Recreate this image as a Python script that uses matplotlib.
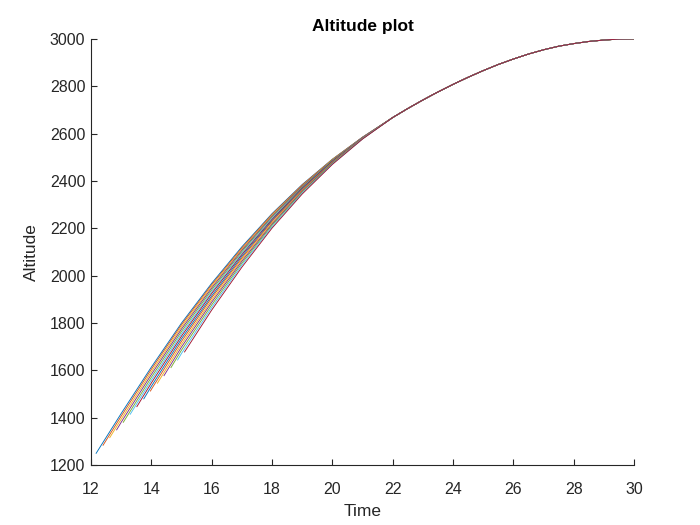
import numpy as np
import matplotlib
matplotlib.use("Agg")
import matplotlib.pyplot as plt

# Start of each trajectory (time, altitude)
start_time = [12.17, 12.40, 12.62, 12.85, 13.07, 13.30, 13.52,
              13.75, 13.97, 14.20, 14.42, 14.65, 14.87, 15.10]
start_alt = [1250, 1284, 1316, 1349, 1381, 1415, 1447,
             1480, 1513, 1546, 1578, 1612, 1644, 1678]

# Altitude at whole seconds up to t=21 (before the curves merge)
early_time = [13, 14, 15, 16, 17, 18, 19, 20, 21]
early_alt = [
    [1418, 1614, 1800, 1968, 2122, 2262, 2385, 2492, 2585],
    [1407, 1605, 1793, 1962, 2117, 2259, 2383, 2491, 2585],
    [1394, 1594, 1784, 1955, 2112, 2255, 2380, 2490, 2584],
    [1381, 1583, 1775, 1948, 2107, 2251, 2378, 2488, 2584],
    [1571, 1765, 1940, 2101, 2247, 2375, 2487, 2583],
    [1559, 1755, 1932, 2095, 2243, 2372, 2485, 2583],
    [1547, 1745, 1925, 2089, 2238, 2370, 2484, 2582],
    [1533, 1734, 1915, 2082, 2233, 2366, 2482, 2581],
    [1520, 1723, 1907, 2075, 2229, 2363, 2480, 2581],
    [1711, 1897, 2068, 2223, 2360, 2478, 2580],
    [1699, 1888, 2061, 2218, 2357, 2477, 2580],
    [1686, 1877, 2053, 2213, 2353, 2475, 2579],
    [1672, 1866, 2045, 2207, 2349, 2472, 2578],
    [1855, 2036, 2201, 2345, 2470, 2577],
]

# Common part once all runs coincide
tail_time = [22, 22.5, 23, 23.5, 24, 24.5, 25, 25.5, 26,
             26.5, 27, 27.5, 28, 28.5, 29, 29.5, 30]
tail_alt = [2668, 2706, 2742, 2776, 2808, 2838, 2866, 2892, 2915,
            2936, 2954, 2969, 2980, 2989, 2995, 2999, 3000]

matlab_colors = ['#0072BD', '#D95319', '#EDB120', '#7E2F8E',
                 '#77AC30', '#4DBEEE', '#A2142F']

plt.rcParams['font.family'] = ['Liberation Sans', 'DejaVu Sans']

fig = plt.figure(figsize=(7, 5.25), dpi=100)
ax = fig.add_axes([0.13, 0.114, 0.776, 0.812])

for i in range(len(start_time)):
    n = len(early_alt[i])
    t = [start_time[i]] + early_time[-n:] + tail_time
    h = [start_alt[i]] + early_alt[i] + tail_alt
    ax.plot(t, h, color=matlab_colors[i % 7], linewidth=0.65)

axis_gray = '#262626'
ax.set_xlim(12, 30)
ax.set_ylim(1200, 3000)
ax.set_xticks(np.arange(12, 31, 2))
ax.set_yticks(np.arange(1200, 3001, 200))
ax.spines['top'].set_visible(False)
ax.spines['right'].set_visible(False)
for s in ['left', 'bottom']:
    ax.spines[s].set_color(axis_gray)
    ax.spines[s].set_linewidth(0.8)
ax.tick_params(direction='in', length=4, width=0.8, colors=axis_gray,
               labelsize=11.5)
ax.tick_params(axis='x', pad=12)
ax.tick_params(axis='y', pad=4)

ax.set_title('Altitude plot', fontsize=12.5, fontweight='bold', color='black', pad=6)
ax.set_xlabel('Time', fontsize=12.5, color=axis_gray, labelpad=5)
ax.set_ylabel('Altitude', fontsize=12.5, color=axis_gray, labelpad=8)

fig.savefig('out.png', dpi=100)
